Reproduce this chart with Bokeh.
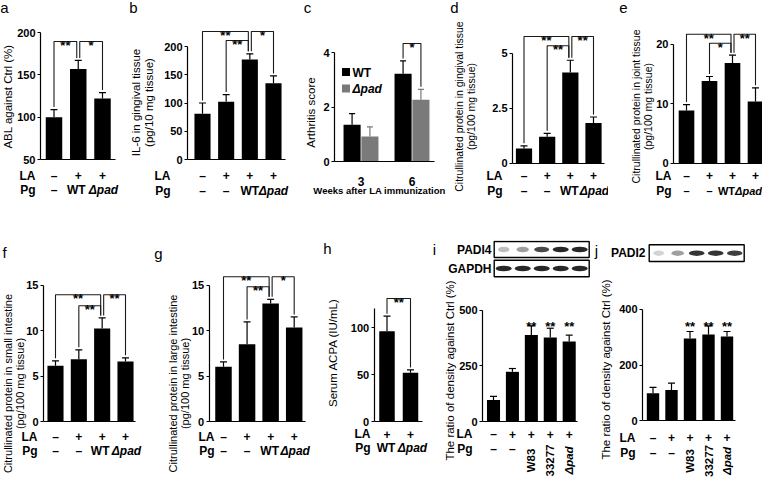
import math
from bokeh.plotting import figure
from bokeh.models import (Range1d, FixedTicker, Whisker, TeeHead, ColumnDataSource,
                          NumeralTickFormatter)
from bokeh.layouts import row, column
from bokeh.core.properties import value
from bokeh.embed import file_html
from bokeh.resources import INLINE

FONT = "Liberation Sans"
GRAY = "#7a7a7a"
ROW_FS = "12px"
TICK_FS = "11px"
LABEL_FS = "11.5px"

# ---------------- data ----------------
LA_3 = ["–", "+", "+"]
PG_3 = ["–", "WT", "Δpad"]
LA_4 = ["–", "+", "+", "+"]
PG_4 = ["–", "–", "WT", "Δpad"]
LA_H = ["+", "+"]
PG_H = ["WT", "Δpad"]
LA_5 = ["–", "+", "+", "+", "+"]
PG_5 = ["–", "–", "W83", "33277", "Δpad"]

a_mean = [100, 157, 122]
a_err = [9, 10, 7]
b_mean = [81, 102, 177, 135]
b_err = [19, 13, 10, 13]
c_weeks = ["3", "6"]
c_wt_mean = [1.35, 3.22]
c_wt_err = [0.41, 0.47]
c_pad_mean = [0.92, 2.27]
c_pad_err = [0.35, 0.38]
d_mean = [0.67, 1.2, 4.12, 1.83]
d_err = [0.12, 0.16, 0.56, 0.27]
e_mean = [8.85, 13.8, 16.86, 10.36]
e_err = [1.0, 0.77, 1.29, 2.3]
f_mean = [6.15, 6.87, 10.24, 6.62]
f_err = [0.55, 1.03, 1.17, 0.4]
g_mean = [6.04, 8.52, 12.98, 10.35]
g_err = [0.54, 2.45, 0.47, 1.17]
h_mean = [96, 52]
h_err = [16, 3]
i_mean = [97, 223, 389, 377, 359]
i_err = [16, 15, 41, 42, 29]
j_mean = [99, 110, 295, 309, 302]
j_err = [21, 25, 25, 31, 18]
ij_sig = ["", "", "**", "**", "**"]
padi4_band = [0.3, 0.45, 0.85, 1.0, 1.0]
gapdh_band = [1.0, 1.0, 1.0, 1.0, 1.0]
padi2_band = [0.2, 0.45, 0.95, 0.95, 0.9]

# significance brackets: (bar i, bar j, label)
a_sig = [(1, 2, "**"), (2, 3, "*")]
b_sig = [(1, 3, "**"), (2, 3, "**"), (3, 4, "*")]
c_sig = [(3, 4, "*")]
d_sig = [(1, 3, "**"), (2, 3, "**"), (3, 4, "**")]
e_sig = [(1, 3, "**"), (2, 3, "*"), (3, 4, "**")]
f_sig = [(1, 3, "**"), (2, 3, "**"), (3, 4, "**")]
g_sig = [(1, 3, "**"), (2, 3, "**"), (3, 4, "*")]
h_sig = [(1, 2, "**")]


# ---------------- helpers ----------------
class Panel:
    def __init__(self, x0, y0, w, h, xcal, ycal):
        d1, p1, d2, p2 = xcal
        v1, q1, v2, q2 = ycal
        self.kx = (p2 - p1) / (d2 - d1)
        self.ky = (q1 - q2) / (v2 - v1)
        self.x0, self.y0 = x0, y0
        self.xs = d1 - (p1 - x0) / self.kx
        self.yt = v1 + (q1 - y0) / self.ky
        self.fig = figure(width=w, height=h, title=None,
                          x_range=Range1d(self.xs, self.xs + w / self.kx),
                          y_range=Range1d(self.yt - h / self.ky, self.yt),
                          output_backend="svg", toolbar_location=None,
                          min_border=0, outline_line_color=None)
        self.fig.xgrid.visible = False
        self.fig.ygrid.visible = False

    def X(self, px):
        return self.xs + (px - self.x0) / self.kx

    def Y(self, py):
        return self.yt - (py - self.y0) / self.ky

    def dx(self, px):
        return px / self.kx

    def dy(self, px):
        return px / self.ky

    def txt(self, x, y, t, size=ROW_FS, style="bold", align="center",
            baseline="middle", angle=0.0):
        if len(t) == 0:
            return
        self.fig.text(x=list(x), y=list(y), text=list(t), text_font=value(FONT),
                      text_font_size=size, text_font_style=style, text_align=align,
                      text_baseline=baseline, angle=angle, text_color="black")

    def axes(self, axis_px, end_px, base, ybounds, yticks, fmt=None):
        f = self.fig
        ya = f.yaxis[0]
        ya.fixed_location = self.X(axis_px)
        ya.bounds = ybounds
        ya.ticker = FixedTicker(ticks=yticks)
        if fmt is not None:
            ya.formatter = fmt
        ya.axis_line_color = "black"
        ya.axis_line_width = 1.2
        ya.major_tick_in = 0
        ya.major_tick_out = 3
        ya.major_tick_line_color = "black"
        ya.major_tick_line_width = 1.2
        ya.minor_tick_line_color = None
        ya.major_label_standoff = 2
        ya.major_label_text_font = FONT
        ya.major_label_text_font_size = TICK_FS
        ya.major_label_text_font_style = "bold"
        ya.major_label_text_color = "black"
        xa = f.xaxis[0]
        xa.fixed_location = base
        xa.bounds = (self.X(axis_px), self.X(end_px))
        xa.ticker = FixedTicker(ticks=[])
        xa.axis_line_color = "black"
        xa.axis_line_width = 1.2
        xa.major_tick_line_color = None
        xa.minor_tick_line_color = None
        self.base = base

    def bars(self, x, mean, err, width, color="black", cap=7):
        f = self.fig
        f.vbar(x=x, top=mean, bottom=self.base, width=width, fill_color=color,
               line_color=None)
        up = [m + e for m, e in zip(mean, err)]
        src = ColumnDataSource(dict(x=list(x), lo=list(mean), hi=up))
        f.add_layout(Whisker(source=src, base="x", lower="lo", upper="hi",
                             line_color=color, line_width=1.2, lower_head=None,
                             upper_head=TeeHead(size=cap, line_color=color, line_width=1.2)))
        return up

    def brackets(self, xs, tops, specs, levels_px, gap=2.5, off=1.5):
        right_ends = {j for (i, j, _) in specs}
        left_ends = {i for (i, j, _) in specs}
        mx, my, lx, ly, lt = [], [], [], [], []
        for (i, j, lab), lev in zip(specs, levels_px):
            xl = xs[i - 1] + (self.dx(off) if i in right_ends else 0)
            xr = xs[j - 1] - (self.dx(off) if j in left_ends else 0)
            yl = self.Y(lev)
            mx.append([xl, xl, xr, xr])
            my.append([tops[i - 1] + self.dy(gap), yl, yl, tops[j - 1] + self.dy(gap)])
            lx.append((xl + xr) / 2)
            ly.append(yl - self.dy(4))
            lt.append(lab)
        self.fig.multi_line(xs=mx, ys=my, line_color="#1a1a1a", line_width=1.1)
        self.txt(lx, ly, lt, size="13px", baseline="alphabetic")

    def rows(self, xs, la, pg, la_px, pg_px, right_px, rot_px=None, pg_shift=None,
             pg_size=ROW_FS):
        base = self.base
        yla = base - self.dy(la_px)
        ypg = base - self.dy(pg_px)
        self.txt(xs, [yla] * len(xs), la)
        if pg_shift is None:
            pg_shift = [0] * len(xs)
        pxs = [x + self.dx(s) for x, s in zip(xs, pg_shift)]
        rot = rot_px is not None
        hn = [(x, t) for x, t in zip(pxs, pg) if not t.startswith("Δ") and not (rot and len(t) > 1)]
        hi = [(x, t) for x, t in zip(pxs, pg) if t.startswith("Δ") and not rot]
        self.txt([x for x, _ in hn], [ypg] * len(hn), [t for _, t in hn], size=pg_size)
        self.txt([x for x, _ in hi], [ypg] * len(hi), [t for _, t in hi], size=pg_size,
                 style="bold italic")
        if rot:
            yr = base - self.dy(rot_px)
            rn = [(x, t) for x, t in zip(pxs, pg) if len(t) > 1 and not t.startswith("Δ")]
            ri = [(x, t) for x, t in zip(pxs, pg) if t.startswith("Δ")]
            self.txt([x for x, _ in rn], [yr] * len(rn), [t for _, t in rn], size="11.5px",
                     angle=math.pi / 2)
            self.txt([x for x, _ in ri], [yr] * len(ri), [t for _, t in ri], size="11.5px",
                     style="bold italic", angle=math.pi / 2)
        self.txt([self.X(right_px)] * 2, [yla, ypg], ["LA", "Pg"], align="right")

    def ylabel(self, lines, xs_px, yc_px, size=LABEL_FS):
        for t, xp in zip(lines, xs_px):
            self.txt([self.X(xp)], [self.Y(yc_px)], [t], size=size, style="normal",
                     angle=math.pi / 2)

    def letter(self, t, px, py):
        self.txt([self.X(px)], [self.Y(py)], [t], size="15px", style="normal")

    def blot(self, n, left_px, right_px, top_px, bot_px, name, label_px, bands):
        L, R = self.X(left_px), self.X(right_px)
        T, B = self.Y(top_px), self.Y(bot_px)
        self.fig.quad(left=[L], right=[R], top=[T], bottom=[B], fill_color="white",
                      line_color="black", line_width=1.4)
        lw = (R - L) / n
        cx = [L + lw * (k + 0.5) for k in range(n)]
        cy = (T + B) / 2
        self.fig.ellipse(x=cx, y=[cy] * n, width=[lw * (0.5 + 0.35 * b) for b in bands],
                         height=self.dy(5.5), fill_color="#111111",
                         fill_alpha=[0.9 * b for b in bands], line_color=None)
        self.txt([self.X(label_px)], [cy], [name], align="right")


TOP, BOT = 8, 248

# ---- a ----
pa = Panel(8, TOP, 129, 240, (1, 61.5, 3, 110), (50, 167, 200, 40))
xa_ = [1, 2, 3]
pa.axes(48, 123, 50, (50, 200), [50, 100, 150, 200])
ta = pa.bars(xa_, a_mean, a_err, 0.68)
pa.brackets(xa_, ta, a_sig, [49, 49])
pa.rows(xa_, LA_3, PG_3, 16, 30, 43, pg_shift=[0, -2, 1])
pa.ylabel(["ABL against Ctrl (%)"], [15], 104)
pa.letter("a", 12, 15)

# ---- b ----
pb = Panel(137, TOP, 163, 240, (1, 210, 4, 281), (0, 167, 200, 54))
xb_ = [1, 2, 3, 4]
pb.axes(195, 293, 0, (0, 200), [0, 50, 100, 150, 200])
tb = pb.bars(xb_, b_mean, b_err, 0.68)
pb.brackets(xb_, tb, b_sig, [39, 48, 39])
pb.rows(xb_, LA_4, PG_4, 16, 31, 178)
pb.ylabel(["IL-6 in gingival tissue", "(pg/10 mg tissue)"], [143, 156], 110)
pb.letter("b", 141, 15)

# ---- c ----
pc = Panel(300, TOP, 155, 240, (1, 368.5, 2, 419.5), (0, 169, 4, 60))
grp = [1, 2]
dodge = 0.175
pc.axes(342, 442, 0, (0, 4), [0, 2, 4])
xwt = [g - dodge for g in grp]
xpd = [g + dodge for g in grp]
twt = pc.bars(xwt, c_wt_mean, c_wt_err, 0.335, color="black", cap=6)
tpd = pc.bars(xpd, c_pad_mean, c_pad_err, 0.335, color=GRAY, cap=6)
cxa = pc.fig.xaxis[0]
cxa.ticker = FixedTicker(ticks=grp)
cxa.major_label_overrides = {g: w for g, w in zip(grp, c_weeks)}
cxa.major_label_standoff = 9
cxa.major_label_text_font = FONT
cxa.major_label_text_font_size = "12px"
cxa.major_label_text_font_style = "bold"
cxa.major_label_text_color = "black"
pc.brackets([xwt[0], xpd[0], xwt[1], xpd[1]], [twt[0], tpd[0], twt[1], tpd[1]],
            c_sig, [51])
pc.txt([pc.X(387)], [pc.Y(198)], ["Weeks after LA immunization"], size="9.5px")
pc.ylabel(["Arthritis score"], [318], 120)
pc.fig.scatter(x=[pc.X(353.5)] * 2, y=[pc.Y(79.5), pc.Y(96)], marker="square", size=8,
               fill_color=["black", GRAY], line_color=None)
pc.txt([pc.X(360)], [pc.Y(80)], ["WT"], align="left")
pc.txt([pc.X(360)], [pc.Y(96.5)], ["Δpad"], align="left", style="bold italic")
pc.letter("c", 315, 15)

# ---- d ----
pd_ = Panel(455, TOP, 161, 240, (1, 531.5, 4, 601), (0, 170.7, 5, 60.7))
xd_ = [1, 2, 3, 4]
pd_.axes(520, 612, 0, (0, 5), [0, 2.5, 5], fmt=NumeralTickFormatter(format="0.[0]"))
td = pd_.bars(xd_, d_mean, d_err, 0.7)
pd_.brackets(xd_, td, d_sig, [44, 53.3, 44])
pd_.rows(xd_, LA_4, PG_4, 12.5, 27.5, 510, pg_shift=[0, 0, -1, 1])
pd_.ylabel(["Citrullinated protein in gingival tissue", "(pg/100 mg tissue)"], [466, 478.5], 114,
           size="10.5px")
pd_.letter("d", 462, 15)

# ---- e ----
pe = Panel(616, TOP, 154, 240, (1, 694, 4, 763), (0, 170.7, 20, 51.7))
xe_ = [1, 2, 3, 4]
pe.axes(681, 770, 0, (0, 20), [0, 10, 20])
te = pe.bars(xe_, e_mean, e_err, 0.68)
pe.brackets(xe_, te, e_sig, [41.7, 50.7, 41.7])
pe.rows(xe_, LA_4, PG_4, 12.5, 27.5, 679, pg_shift=[0, 0, -6, -7], pg_size="11px")
pe.ylabel(["Citrullinated protein in joint tissue", "(pg/100 mg tissue)"], [643, 655.5], 114,
          size="10.5px")
pe.letter("e", 631, 15)

# ---- f ----
pf = Panel(8, BOT, 142, 242, (1, 63, 4, 133), (0, 429.3, 15, 292.7))
xf_ = [1, 2, 3, 4]
pf.axes(51, 143, 0, (0, 15), [0, 5, 10, 15])
tf = pf.bars(xf_, f_mean, f_err, 0.69)
pf.brackets(xf_, tf, f_sig, [302.3, 313.3, 302.3])
pf.rows(xf_, LA_4, PG_4, 15, 29, 45, pg_shift=[0, 0, -2, 1])
pf.ylabel(["Citrullinated protein in small intestine", "(pg/100 mg tissue)"], [15, 27], 391,
          size="11px")
pf.letter("f", 12, 260)

# ---- g ----
pg_ = Panel(150, BOT, 175, 242, (1, 231, 4, 301.7), (0, 429.3, 15, 292.7))
xg_ = [1, 2, 3, 4]
pg_.axes(216.7, 313, 0, (0, 15), [0, 5, 10, 15])
tg = pg_.bars(xg_, g_mean, g_err, 0.7)
pg_.brackets(xg_, tg, g_sig, [284.3, 294.3, 284.3])
pg_.rows(xg_, LA_4, PG_4, 15, 29, 222, pg_shift=[0, 0, -1, 1])
pg_.ylabel(["Citrullinated protein in large intestine", "(pg/100 mg tissue)"], [180, 192.5], 391,
           size="11px")
pg_.letter("g", 166, 261)

# ---- h ----
ph = Panel(325, BOT, 113, 242, (1, 394.5, 2, 418), (0, 429.3, 100, 335))
xh_ = [1, 2]
ph.axes(381.7, 430, 0, (0, 120), [0, 50, 100])
th = ph.bars(xh_, h_mean, h_err, 0.66)
ph.brackets(xh_, th, h_sig, [306])
ph.rows(xh_, LA_H, PG_H, 12.4, 26.4, 378, pg_shift=[-1, 2])
ph.ylabel(["Serum ACPA (IU/mL)"], [340], 360)
ph.letter("h", 335, 256)

# ---- i ----
pi_ = Panel(438, BOT, 162, 242, (1, 501, 5, 576.7), (0, 429, 500, 317.7))
xi_ = [1, 2, 3, 4, 5]
pi_.axes(490, 585, 0, (0, 500), [0, 250, 500])
ti = pi_.bars(xi_, i_mean, i_err, 0.69)
sx = [x for x, s in zip(xi_, ij_sig) if s]
pi_.txt(sx, [pi_.Y(333.5)] * len(sx), [s for s in ij_sig if s], size="13px", baseline="alphabetic")
pi_.rows(xi_, LA_5, PG_5, 12.7, 27.7, 480, rot_px=39)
pi_.ylabel(["The ratio of density against Ctrl (%)"], [457], 378)
pi_.blot(5, 501.7, 596.7, 249, 265, "PADI4", 499, padi4_band)
pi_.blot(5, 501.7, 596.7, 267.7, 284.3, "GAPDH", 499, gapdh_band)
pi_.letter("i", 442, 257)

# ---- j ----
pj = Panel(600, BOT, 170, 242, (1, 660.5, 5, 734.5), (0, 428.3, 400, 316.7))
xj_ = [1, 2, 3, 4, 5]
pj.axes(650, 743, 0, (0, 400), [0, 200, 400])
tj = pj.bars(xj_, j_mean, j_err, 0.67)
sx = [x for x, s in zip(xj_, ij_sig) if s]
pj.txt(sx, [pj.Y(333.5)] * len(sx), [s for s in ij_sig if s], size="13px", baseline="alphabetic")
pj.rows(xj_, LA_5, PG_5, 16.7, 31.7, 643, rot_px=40.2)
pj.ylabel(["The ratio of density against Ctrl (%)"], [613], 377)
pj.blot(5, 656.7, 751.7, 252.3, 269, "PADI2", 653, padi2_band)
pj.letter("j", 604, 258)

layout = column(row(pa.fig, pb.fig, pc.fig, pd_.fig, pe.fig),
                row(pf.fig, pg_.fig, ph.fig, pi_.fig, pj.fig))

open("out.html", "w").write(file_html(layout, INLINE))
